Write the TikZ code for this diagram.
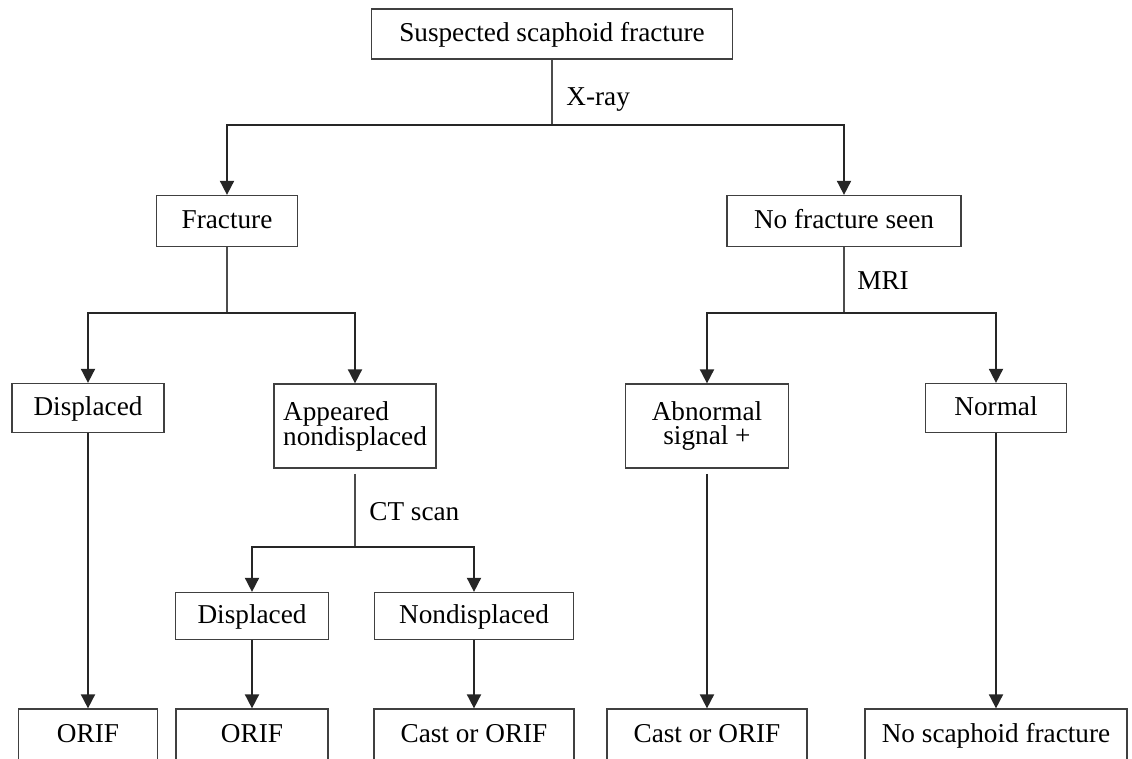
\documentclass[tikz,border=0pt]{standalone}
\usepackage{fontspec}
\setmainfont{Liberation Serif}
\usepackage{tikz}
\usetikzlibrary{positioning, arrows.meta}

\begin{document}
\begin{tikzpicture}[
    x=0.02cm, y=-0.02cm,
    box/.style={draw=black!75, line width=0.7pt, inner sep=2pt, align=center, font=\fontsize{15.5}{14.2}\selectfont},
    single/.style={box, text height=0.9em, text depth=0pt},
    lbl/.style={inner sep=0pt, font=\fontsize{15.5}{14.2}\selectfont},
    link/.style={draw=black!70, line width=0.8pt},
    arrow/.style={draw=black!85, line width=1pt, -{Triangle[width=8pt, length=8pt]}}
]
\useasboundingbox (0,0) rectangle (1132,759);

% boxes
\node[single, minimum width=7.22cm, minimum height=1.0cm] (suspect) at (552,34) {Suspected scaphoid fracture};
\node[single, minimum width=2.82cm, minimum height=1.02cm] (fract) at (227,221) {Fracture};
\node[single, minimum width=4.68cm, minimum height=1.02cm] (nofract) at (844,221) {No fracture seen};
\node[single, minimum width=3.04cm, minimum height=0.98cm] (displ) at (88,408) {Displaced};
\node[box, minimum width=3.24cm, minimum height=1.68cm, align=left] (appear) at (355,426) {Appeared\\nondisplaced};
\node[box, minimum width=3.26cm, minimum height=1.68cm] (abnorm) at (707,426) {Abnormal\\signal +};
\node[single, minimum width=2.82cm, minimum height=0.98cm] (normal) at (996,408) {Normal};
\node[single, minimum width=3.06cm, minimum height=0.94cm] (displB) at (252,616) {Displaced};
\node[single, minimum width=3.98cm, minimum height=0.94cm] (nondispl) at (474,616) {Nondisplaced};

% last row
\node[single, minimum width=2.78cm, minimum height=1.04cm] (orifA) at (88,735) {ORIF};
\node[single, minimum width=3.04cm, minimum height=1.04cm] (orifB) at (252,735) {ORIF};
\node[single, minimum width=4.0cm, minimum height=1.04cm] (castA) at (474,735) {Cast or ORIF};
\node[single, minimum width=4.0cm, minimum height=1.04cm] (castB) at (707,735) {Cast or ORIF};
\node[single, minimum width=5.24cm, minimum height=1.04cm] (noscaph) at (996,735) {No scaphoid fracture};

% test labels
\node[lbl, anchor=west] (xray) at (566,100) {X-ray};
\node[lbl, anchor=west] (mri) at (857,281) {MRI};
\node[lbl, anchor=west] (ctscan) at (369,512) {CT scan};

\coordinate (xrayJ) at (552,125);
\coordinate (fractJ) at (227,313);
\coordinate (mriJ) at (844,313);
\coordinate (ctJ) at (355,547);

% connectors
\draw[link] (suspect) -- (xrayJ);
\draw[arrow] (xrayJ) -| (fract);
\draw[arrow] (xrayJ) -| (nofract);
\draw[link] (fract) -- (fractJ);
\draw[arrow] (fractJ) -| (displ);
\draw[arrow] (fractJ) -| (appear);
\draw[link] (nofract) -- (mriJ);
\draw[arrow] (mriJ) -| (abnorm);
\draw[arrow] (mriJ) -| (normal);
\draw[link, shorten <=3pt] (appear) -- (ctJ);
\draw[arrow] (ctJ) -| (displB);
\draw[arrow] (ctJ) -| (nondispl);
\draw[arrow] (displ) -- (orifA);
\draw[arrow] (displB) -- (orifB);
\draw[arrow] (nondispl) -- (castA);
\draw[arrow, shorten <=3pt] (abnorm) -- (castB);
\draw[arrow] (normal) -- (noscaph);
\end{tikzpicture}
\end{document}
